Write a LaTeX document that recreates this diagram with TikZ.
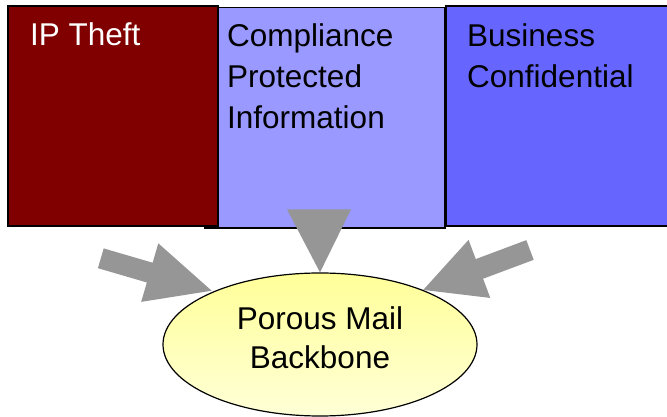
\documentclass[tikz,border=0pt]{standalone}
\usepackage{fontspec}
\setmainfont{Liberation Sans}
\usetikzlibrary{shapes.geometric}
\definecolor{darkred}{RGB}{128,0,0}
\definecolor{midblue}{RGB}{153,153,255}
\definecolor{rightblue}{RGB}{102,102,255}
\definecolor{arrowgray}{RGB}{150,150,150}
\definecolor{ytop}{RGB}{255,255,153}
\definecolor{ybot}{RGB}{255,255,215}
\begin{document}
\begin{tikzpicture}[x=1pt,y=1pt,
  panel/.style={draw=black,line width=1.4pt},
  paneltext/.style={anchor=north west,inner sep=0pt,align=left,
    font=\fontsize{31.5}{41}\selectfont},
  arrowfill/.style={fill=arrowgray}]
\clip (0,0) rectangle (667,417);
% boxes
\draw[panel,fill=midblue] (205,189) rectangle (445,409.5);
\draw[panel,fill=darkred] (8,191) rectangle (218,411);
\draw[panel,fill=rightblue] (446,191) rectangle (672,411);
\node[paneltext,text=white] (ip) at (30,395) {IP Theft};
\node[paneltext] (comp) at (227,393.5) {Compliance\\Protected\\Information};
\node[paneltext] (bus) at (467,394) {Business\\Confidential};
% ellipse
\node[ellipse,draw=black,line width=1.2pt,top color=ytop,bottom color=ybot,
  minimum width=314pt,minimum height=143pt,inner sep=0pt,align=center,
  text depth=13pt,font=\fontsize{31.5}{39}\selectfont] (mail) at (320,72.5)
  {Porous Mail\\Backbone};
% arrows
\coordinate (ltail) at (100.8,158.7);
\coordinate (rtail) at (530,167);
\fill[arrowfill] (287,207.7) -- (351,207.7) -- (mail.north) -- cycle;
\begin{scope}[shift={(ltail)},rotate=-16.3]
\fill[arrowfill] (0,10.3) -- (51,10.3) -- (51,30.5) -- (115.5,0) -- (51,-30.5) -- (51,-10.3) -- (0,-10.3) -- cycle;
\end{scope}
\begin{scope}[shift={(rtail)},rotate=200.5]
\fill[arrowfill] (0,10.5) -- (54,10.5) -- (54,31) -- (114,0) -- (54,-31) -- (54,-10.5) -- (0,-10.5) -- cycle;
\end{scope}
\end{tikzpicture}
\end{document}
